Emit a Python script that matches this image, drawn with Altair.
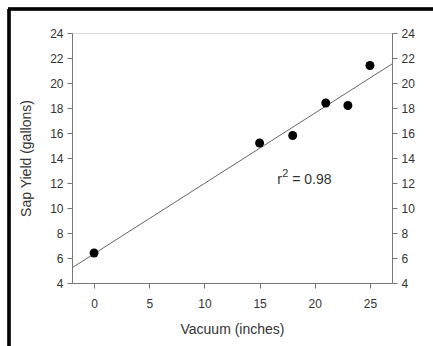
import altair as alt
import pandas as pd

vacuum = [0, 15, 18, 21, 23, 25]
sap_yield = [6.4, 15.2, 15.8, 18.4, 18.2, 21.4]
x_ticks = [0, 5, 10, 15, 20, 25]
y_ticks = [4, 6, 8, 10, 12, 14, 16, 18, 20, 22, 24]
ann_parts = ["r", "2", "= 0.98"]

df = pd.DataFrame({"vacuum": vacuum, "sap": sap_yield})
ann = pd.DataFrame({"x": [16.6], "y": [12.3]})

FONT = "Liberation Sans"
GRAY = "#777"
TXT = "#333333"
xs = alt.Scale(domain=[-2, 27], nice=False, zero=False)
ys = alt.Scale(domain=[4, 24], nice=False, zero=False)

x_axis = alt.Axis(values=x_ticks, title="Vacuum (inches)", grid=False, domainColor=GRAY,
                  tickColor=GRAY, tickSize=5, labelFont=FONT, labelFontSize=12,
                  labelColor=TXT, titleFont=FONT, titleFontSize=14,
                  titleFontWeight="normal", titleColor=TXT, labelPadding=10, titlePadding=13)

def y_axis(orient, title):
    return alt.Axis(values=y_ticks, orient=orient, grid=False, domainColor=GRAY, tickColor=GRAY,
                    tickSize=5, labelFont=FONT, labelFontSize=12, labelColor=TXT,
                    titleFont=FONT, titleFontSize=14, titleFontWeight="normal",
                    titleColor=TXT, labelPadding=4, titlePadding=16, title=title)

base = alt.Chart(df)

points = base.mark_circle(size=80, color="black", opacity=1).encode(
    x=alt.X("vacuum:Q", scale=xs, axis=x_axis),
    y=alt.Y("sap:Q", scale=ys, axis=y_axis("left", "Sap Yield (gallons)")),
)

line = base.transform_regression("vacuum", "sap", extent=[-2, 27]).mark_line(
    color="#666", strokeWidth=1, clip=True
).encode(
    x=alt.X("vacuum:Q", scale=xs),
    y=alt.Y("sap:Q", scale=ys, axis=y_axis("right", "")),
)

def ann_text(label, dx, dy, size):
    return alt.Chart(ann).mark_text(font=FONT, fontSize=size, color=TXT, align="left",
                                    baseline="middle", dx=dx, dy=dy, text=label).encode(
        x=alt.X("x:Q", scale=xs),
        y=alt.Y("y:Q", scale=ys, axis=None),
    )

t_r = ann_text(ann_parts[0], 0, 1, 14)
t_2 = ann_text(ann_parts[1], 5, -5, 11)
t_eq = ann_text(ann_parts[2], 15, 1, 14)

border_left = alt.Chart(df).mark_rule(color="black", strokeWidth=2.5, clip=False).encode(
    x=alt.value(-63), y=alt.value(-24), y2=alt.value(320)
)
border_top = alt.Chart(df).mark_rule(color="black", strokeWidth=2.5, clip=False).encode(
    x=alt.value(-64), x2=alt.value(370), y=alt.value(-24)
)

chart = alt.layer(line, points, t_r, t_2, t_eq, border_left, border_top).resolve_scale(
    y="independent"
).properties(
    width=320, height=250,
    autosize=alt.AutoSizeParams(type="none"),
    padding={"left": 72, "top": 33, "right": 41, "bottom": 63},
).configure_view(stroke=GRAY, strokeWidth=1).configure(background="white")

chart.save("out.html", embed_options={"renderer": "svg", "actions": False})
